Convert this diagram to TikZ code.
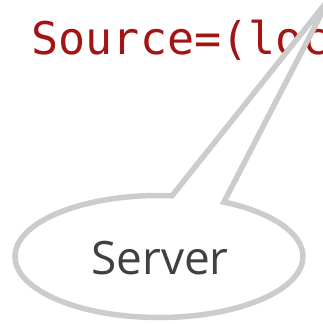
\documentclass[tikz,border=0pt]{standalone}
\usepackage{fontspec}
\setmainfont{Open Sans}
\newfontfamily\codefont{DejaVu Sans Mono}
\usetikzlibrary{calc}
\definecolor{codered}{HTML}{A31515}
\definecolor{calloutgray}{HTML}{CCCCCC}
\definecolor{labelgray}{HTML}{404040}
\begin{document}
\begin{tikzpicture}[x=1pt,y=1pt,
  codetext/.style={font=\codefont\fontsize{45}{54}\selectfont, text=codered, inner sep=0pt, anchor=base west},
  bubble/.style={draw=calloutgray, line width=5.5pt, fill=white},
  bubbletext/.style={font=\fontsize{46}{55}\selectfont, text=labelgray, inner sep=0pt, anchor=base}]
  \useasboundingbox (0,0) rectangle (323,324);
  % code line behind the callout
  \node[codetext] (src) at (31.5,269) {Source=(loc};
  % speech bubble: ellipse with a long pointer to the upper right
  \coordinate (c) at (159,67.5);
  \coordinate (tip) at (329,325);
  \draw[bubble] (tip) -- ($(c)+(84.8:144pt and 61pt)$)
    arc[start angle=84.8, end angle=423.2, x radius=144pt, y radius=61pt] -- cycle;
  \node[bubbletext] (server) at (160,49) {Server};
\end{tikzpicture}
\end{document}
